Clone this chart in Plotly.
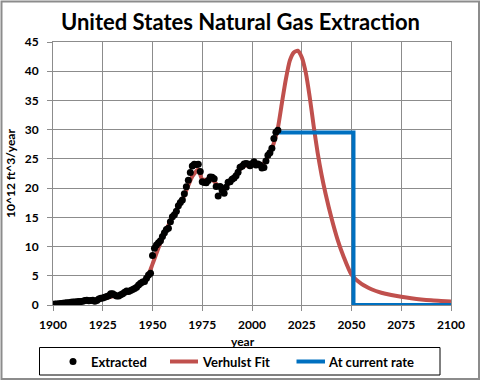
import plotly.graph_objects as go

# Extracted (annual, 10^12 ft^3/year)
ext_years = list(range(1900, 2014))
ext_values = [
    0.13, 0.15, 0.18, 0.22, 0.26, 0.31, 0.34, 0.37, 0.40, 0.48,
    0.51, 0.51, 0.56, 0.58, 0.59, 0.63, 0.75, 0.80, 0.72, 0.75,
    0.80, 0.66, 0.76, 1.01, 1.14, 1.19, 1.31, 1.45, 1.57, 1.92,
    1.94, 1.69, 1.56, 1.56, 1.77, 1.92, 2.17, 2.41, 2.30, 2.48,
    2.66, 2.81, 3.03, 3.41, 3.71, 3.92, 4.03, 4.58, 5.15, 5.42,
    8.48, 9.69, 10.27, 10.65, 10.98, 11.72, 12.37, 12.91, 13.15, 14.23,
    15.09, 15.46, 16.04, 16.97, 17.54, 17.96, 19.03, 20.25, 21.33, 22.68,
    23.79, 24.09, 24.02, 24.07, 22.85, 21.10, 20.94, 20.92, 21.31, 21.88,
    21.87, 21.59, 20.27, 18.66, 20.27, 19.61, 19.13, 20.14, 21.00, 21.07,
    21.52, 21.75, 22.13, 22.73, 23.58, 23.74, 24.11, 24.21, 24.11, 23.82,
    24.17, 24.50, 23.94, 24.12, 23.97, 23.46, 23.54, 24.66, 25.64, 26.06,
    26.82, 28.48, 29.54, 29.90,
]

# Verhulst fit
fit_years = [1900, 1910, 1920, 1925, 1930, 1935, 1940, 1945, 1948, 1950,
             1955, 1960, 1965, 1970, 1973, 1975, 1980, 1985, 1990, 1995, 2000,
             2005, 2010, 2013, 2015, 2017, 2019, 2021, 2023, 2025, 2027,
             2029, 2031, 2033, 2035, 2037, 2040, 2043, 2046, 2050, 2055,
             2060, 2065, 2070, 2075, 2080, 2085, 2090, 2095, 2100]
fit_values = [0.2, 0.5, 0.8, 1.1, 1.5, 1.9, 2.6, 3.8, 5.2, 7.0,
              11.5, 15.0, 18.0, 22.0, 23.2, 21.5, 21.4, 19.8, 21.4, 23.6, 24.1,
              23.9, 26.8, 30.3, 34.5, 38.6, 41.8, 43.2, 43.5, 42.4, 39.8,
              35.6, 30.6, 26.0, 22.2, 19.0, 14.8, 11.2, 8.3, 5.2, 3.6,
              2.7, 2.1, 1.7, 1.4, 1.15, 0.95, 0.8, 0.7, 0.6]

# At current rate
cur_years = [2013, 2051, 2051, 2100]
cur_values = [29.5, 29.5, 0, 0]

x_ticks = [1900, 1925, 1950, 1975, 2000, 2025, 2050, 2075, 2100]
y_ticks = [0, 5, 10, 15, 20, 25, 30, 35, 40, 45]

series_names = ["Extracted", "Verhulst Fit", "At current rate"]
RED, BLUE = "#C0504D", "#0070C0"
FONT = "Lato"

fig = go.Figure()
fig.add_trace(go.Scatter(x=fit_years, y=fit_values, mode="lines", name=series_names[1],
                         line=dict(color=RED, width=4, shape="spline", smoothing=0.6)))
fig.add_trace(go.Scatter(x=cur_years, y=cur_values, mode="lines", name=series_names[2],
                         line=dict(color=BLUE, width=4)))
fig.add_trace(go.Scatter(x=ext_years, y=ext_values, mode="markers", name=series_names[0],
                         marker=dict(color="black", size=7)))

W, H = 481, 384
L, R, T, B = 53, 451, 42, 305
pw, ph = R - L, B - T

def px(x):
    return (x - L) / pw

def py(y):
    return (B - y) / ph

fig.update_layout(
    width=W, height=H,
    margin=dict(l=L, r=W - R, t=T, b=H - B, autoexpand=False),
    paper_bgcolor="white", plot_bgcolor="white",
    font=dict(family=FONT, color="black", size=12),
    showlegend=False,
    title=dict(text="<b>United States Natural Gas Extraction</b>", x=0.5, xanchor="center",
               y=1 - 22 / H, yanchor="middle", font=dict(size=22, family=FONT)),
    xaxis=dict(range=[1900, 2100], tickvals=x_ticks, ticktext=[str(v) for v in x_ticks],
               showgrid=True, gridcolor="#8c8c8c", gridwidth=1, zeroline=False,
               showline=True, linecolor="#8c8c8c", linewidth=1, mirror=True,
               ticks="outside", ticklen=5, tickcolor="#8c8c8c", ticklabelstandoff=4,
               tickfont=dict(size=12, family=FONT, weight="bold")),
    yaxis=dict(range=[0, 45], tickvals=y_ticks, showgrid=True, gridcolor="#8c8c8c", gridwidth=1,
               zeroline=False, showline=True, linecolor="#8c8c8c", linewidth=1, mirror=True,
               ticks="outside", ticklen=5, tickcolor="#8c8c8c", ticklabelstandoff=6,
               tickfont=dict(size=12, family=FONT, weight="bold"),
               title=dict(text="<b>10^12 ft^3/year</b>", font=dict(size=12, family=FONT), standoff=6)),
)

# x-axis title
fig.add_annotation(text="<b>year</b>", xref="paper", yref="paper", x=px(243), y=py(341),
                   xanchor="center", yanchor="middle", showarrow=False,
                   font=dict(size=12, family=FONT))

# outer chart border
fig.add_shape(type="rect", xref="paper", yref="paper",
              x0=px(1.5), x1=px(479), y0=py(379), y1=py(1.5),
              line=dict(color="#8c8c8c", width=2), layer="below")

# legend box
LY = 361.5
fig.add_shape(type="rect", xref="paper", yref="paper",
              x0=px(39.5), x1=px(440), y0=py(375), y1=py(347.5),
              line=dict(color="black", width=1), fillcolor="white", layer="below")
fig.add_shape(type="circle", xref="paper", yref="paper",
              x0=px(69.5), x1=px(76.5), y0=py(LY + 3.5), y1=py(LY - 3.5),
              line=dict(color="black", width=0), fillcolor="black")
fig.add_shape(type="line", xref="paper", yref="paper",
              x0=px(170), x1=px(198), y0=py(LY), y1=py(LY), line=dict(color=RED, width=4))
fig.add_shape(type="line", xref="paper", yref="paper",
              x0=px(296.5), x1=px(325), y0=py(LY), y1=py(LY), line=dict(color=BLUE, width=4))
for name, xs in zip(series_names, [89, 200, 326]):
    fig.add_annotation(text="<b>" + name + "</b>", xref="paper", yref="paper",
                       x=px(xs), y=py(LY), xanchor="left", yanchor="middle", showarrow=False,
                       font=dict(size=13, family=FONT))

fig.write_html("out.html", config={"displayModeBar": False, "staticPlot": True})

# remove the default page margin so the figure sits at the window origin
with open("out.html", "r", encoding="utf-8") as f:
    html = f.read()
html = html.replace("<head>", "<head><style>html,body{margin:0;padding:0;overflow:hidden;}</style>", 1)
with open("out.html", "w", encoding="utf-8") as f:
    f.write(html)
